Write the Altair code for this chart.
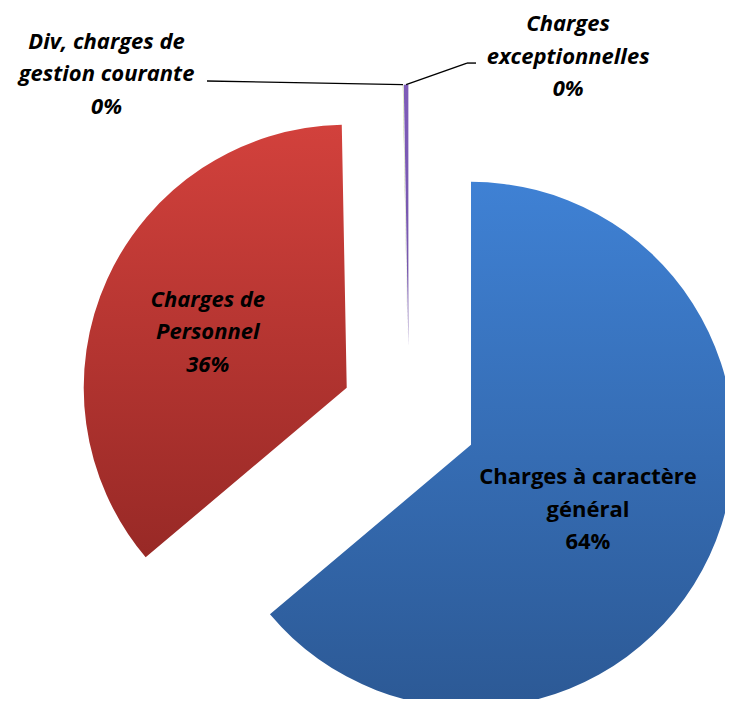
import altair as alt
import pandas as pd

# ---------------- data ----------------
categories = [
    "Charges à caractère général",
    "Charges de Personnel",
    "Div, charges de gestion courante",
    "Charges exceptionnelles",
]
values = [63.85, 35.85, 0.02, 0.28]
label_text = [
    "Charges à caractère|général",
    "Charges de|Personnel",
    "Div, charges de|gestion courante",
    "Charges|exceptionnelles",
]

df = pd.DataFrame({
    "order": list(range(len(categories))),
    "category": categories,
    "value": values,
    "lines": label_text,
})

# ---------------- style / layout ----------------
W, H = 717, 691
R_PX = 263                 # pie radius in pixels
CX_PX, CY_PX = 401, 408    # un-exploded pie centre inside the plot area
EXPLODE = 0.26             # explosion distance, in pie radii
LH = 32.5                  # label line height

XS = alt.Scale(domain=[-CX_PX / R_PX, (W - CX_PX) / R_PX], nice=False, zero=False)
YS = alt.Scale(domain=[(CY_PX - H) / R_PX, CY_PX / R_PX], nice=False, zero=False)

def grad(top, bottom):
    return {"gradient": "linear", "x1": 0, "y1": 0, "x2": 0, "y2": 1,
            "stops": [{"offset": 0, "color": top}, {"offset": 1, "color": bottom}]}

fills = {
    categories[0]: grad("#3F81D4", "#2C5995"),
    categories[1]: grad("#D2413C", "#982926"),
    categories[2]: grad("#9BBB59", "#71893F"),
    categories[3]: grad("#7E5CB8", "#7356A8"),
}

# label placement: inside labels by radius / angle shift, outside labels in pie-radius units
layout = pd.DataFrame({
    "category": categories,
    "lr": [0.509, 0.569, None, None],
    "lda": [4.2, -2.6, None, None],
    "lx": [None, None, -1.150, 0.605], "ly": [None, None, 1.300, 1.366],
    "ex": [None, None, -0.768, 0.2205], "ey": [None, None, 1.274, 1.342],
    "tx": [None, None, -0.768, 0.2548], "ty": [None, None, 1.274, 1.342],
})

base = (
    alt.Chart(df)
    .transform_joinaggregate(total="sum(value)")
    .transform_window(cum="sum(value)", sort=[alt.SortField("order")], frame=[None, 0])
    .transform_lookup(
        lookup="category",
        from_=alt.LookupData(layout, "category", ["lr", "lda", "lx", "ly", "ex", "ey", "tx", "ty"]),
    )
    .transform_calculate(
        t0="(datum.cum - datum.value) / datum.total * 2 * PI",
        t1="datum.cum / datum.total * 2 * PI",
    )
    .transform_calculate(mid="(datum.t0 + datum.t1) / 2")
    .transform_calculate(
        cx=f"{EXPLODE} * sin(datum.mid)",
        cy=f"{EXPLODE} * cos(datum.mid)",
        pct="format(datum.value / datum.total, '.0%')",
        la="datum.mid + (isValid(datum.lda) ? datum.lda : 0) * PI / 180",
    )
    .transform_calculate(
        ox="datum.cx + sin(datum.mid)",
        oy="datum.cy + cos(datum.mid)",
        ilx="datum.cx + datum.lr * sin(datum.la)",
        ily="datum.cy + datum.lr * cos(datum.la)",
        label="datum.lines + '|' + datum.pct",
    )
)

layers = []
for cat in categories:
    layers.append(
        base.transform_filter(alt.datum.category == cat)
        .mark_arc(radius=R_PX, fill=fills[cat])
        .encode(
            x=alt.X("cx:Q", scale=XS, axis=None),
            y=alt.Y("cy:Q", scale=YS, axis=None),
            theta=alt.Theta("t0:Q", scale=None, stack=False),
            theta2="t1:Q",
        )
    )

text_common = dict(font="Open Sans", fontWeight="bold", lineBreak="|", lineHeight=LH,
                   dy=-LH, align="center", baseline="middle", color="black")

# inside labels
layers.append(
    base.transform_filter(alt.datum.category == categories[0])
    .mark_text(fontSize=22, **text_common)
    .encode(x=alt.X("ilx:Q", scale=XS, axis=None), y=alt.Y("ily:Q", scale=YS, axis=None),
            text="label:N")
)
layers.append(
    base.transform_filter(alt.datum.category == categories[1])
    .mark_text(fontSize=22, fontStyle="italic", **text_common)
    .encode(x=alt.X("ilx:Q", scale=XS, axis=None), y=alt.Y("ily:Q", scale=YS, axis=None),
            text="label:N")
)

# outside labels + leader lines
out_base = base.transform_filter("isValid(datum.lx)")

layers.append(
    out_base.mark_rule(color="black", strokeWidth=1.4)
    .encode(x=alt.X("ox:Q", scale=XS, axis=None), y=alt.Y("oy:Q", scale=YS, axis=None),
            x2="ex:Q", y2="ey:Q")
)
layers.append(
    out_base.mark_rule(color="black", strokeWidth=1.4)
    .encode(x=alt.X("ex:Q", scale=XS, axis=None), y=alt.Y("ey:Q", scale=YS, axis=None),
            x2="tx:Q", y2="ty:Q")
)
layers.append(
    out_base.mark_text(fontSize=22, fontStyle="italic", **text_common)
    .encode(x=alt.X("lx:Q", scale=XS, axis=None), y=alt.Y("ly:Q", scale=YS, axis=None),
            text="label:N")
)

chart = (
    alt.layer(*layers)
    .properties(width=W, height=H, padding=0, autosize="none", background="white")
    .configure_view(stroke=None)
)

chart.save("out.html", embed_options={"renderer": "svg", "actions": False})
